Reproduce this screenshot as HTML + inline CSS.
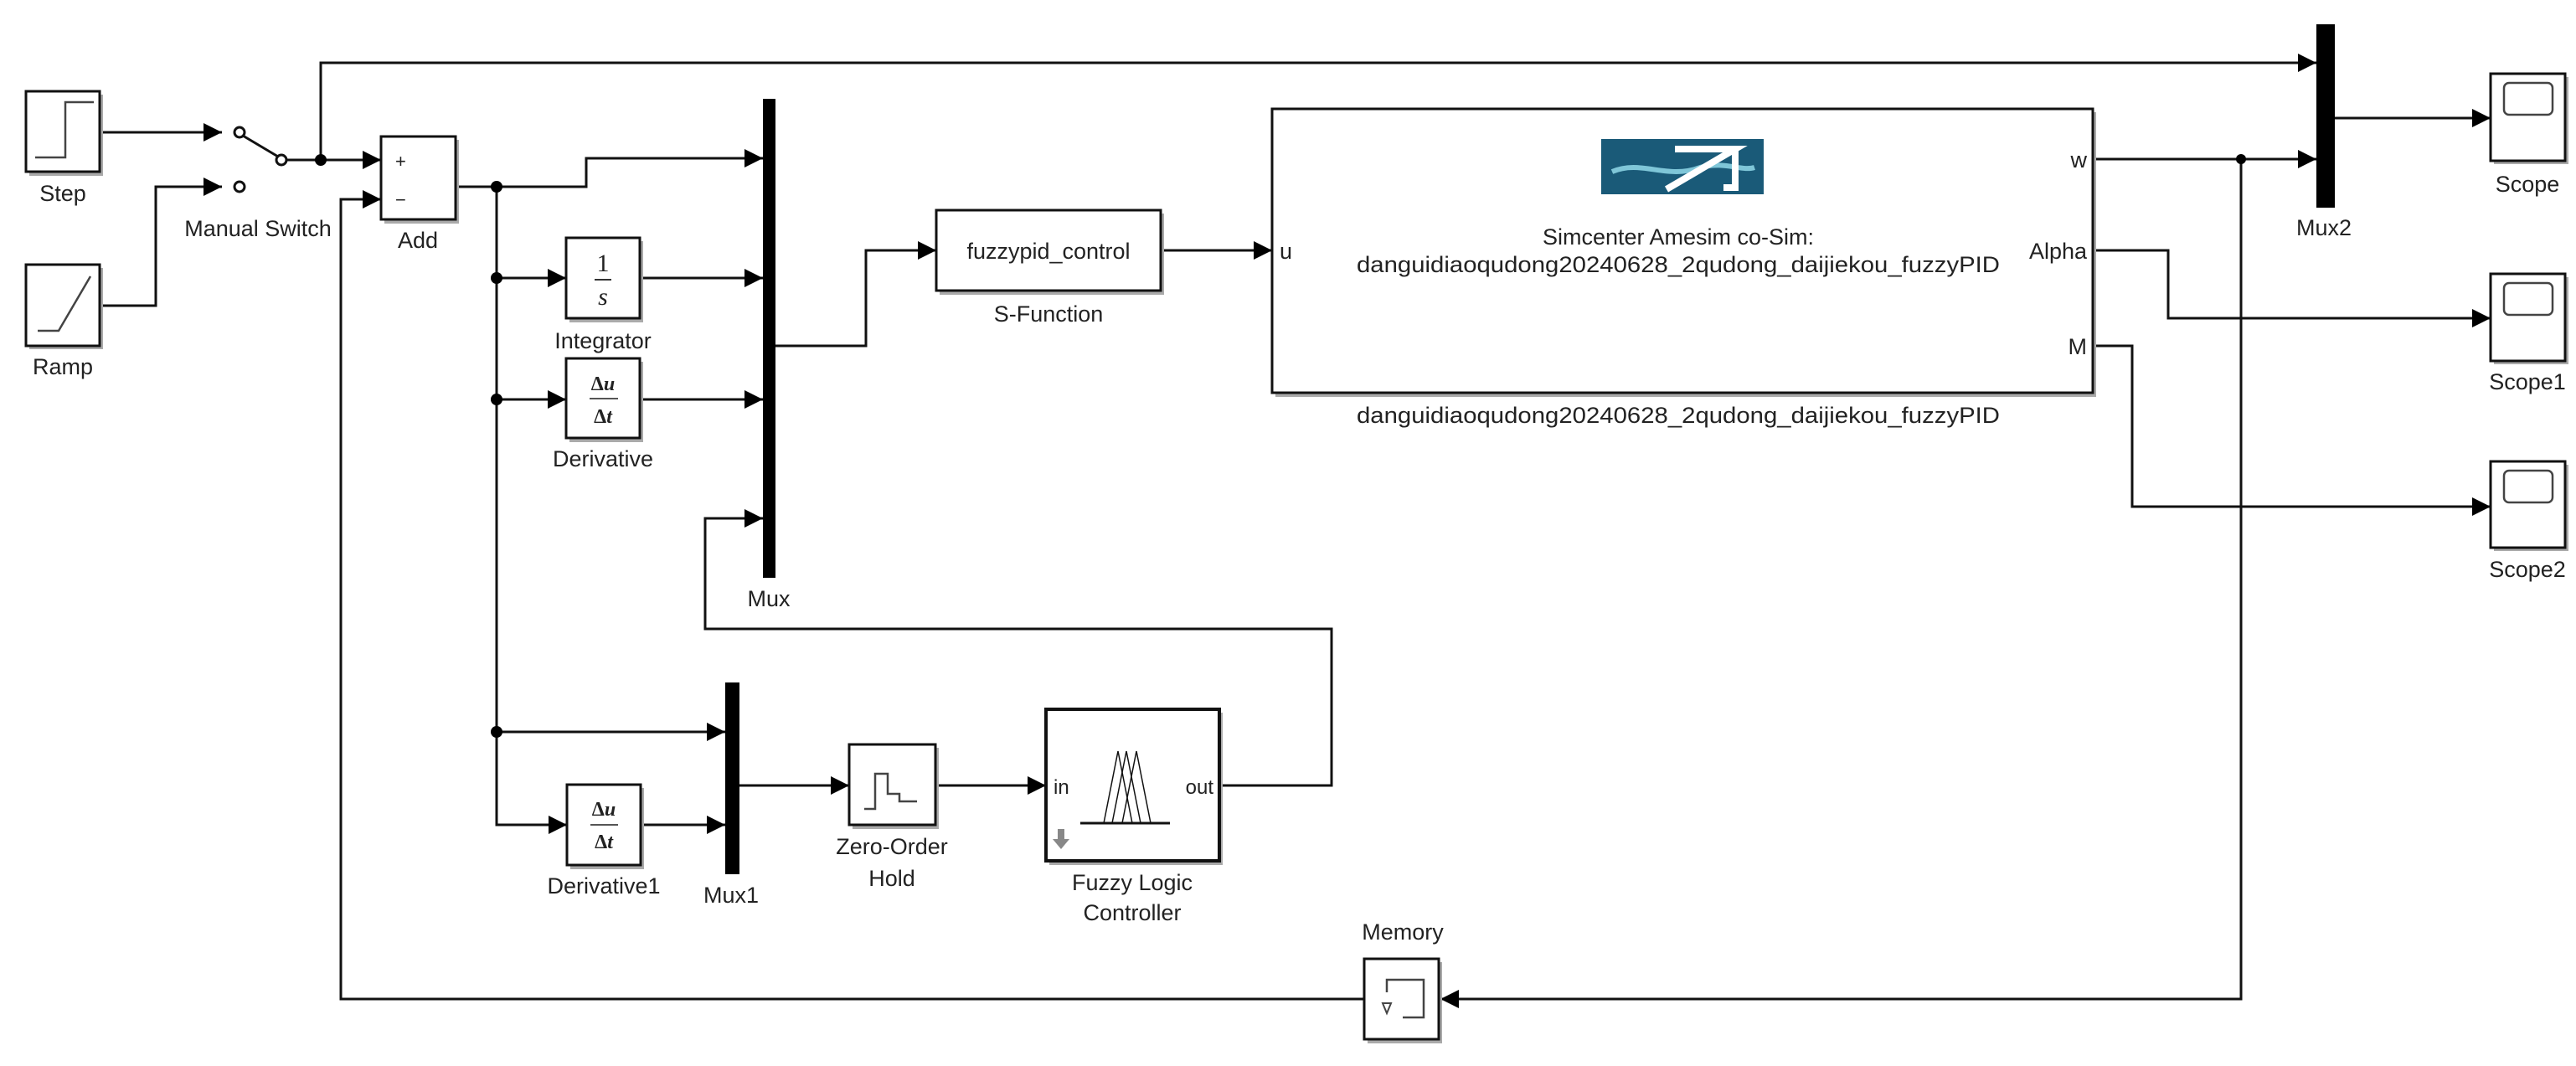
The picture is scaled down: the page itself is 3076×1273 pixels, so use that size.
<!DOCTYPE html>
<html><head><meta charset="utf-8"><style>
html,body{margin:0;padding:0;background:#fff;}
svg{display:block;}
text{font-family:"Liberation Sans",Arial,sans-serif;font-size:27px;fill:#222;}
</style></head><body>
<svg width="3076" height="1273" viewBox="0 0 3076 1273" xmlns="http://www.w3.org/2000/svg">
<defs>
<marker id="a" markerUnits="userSpaceOnUse" markerWidth="22" markerHeight="22" refX="20" refY="10" orient="auto" viewBox="0 0 20 20"><path d="M0,0 L20,10 L0,20 z" fill="#000"/></marker>
</defs>
<g fill="none" stroke="#111" stroke-width="3">
<polyline points="119,158 265,158" marker-end="url(#a)"/>
<polyline points="119,365 186,365 186,223 265,223" marker-end="url(#a)"/>
<line x1="290" y1="162" x2="332" y2="187"/>
<polyline points="341,191 455,191" marker-end="url(#a)"/>
<polyline points="383,191 383,75 2766,75" marker-end="url(#a)"/>
<polyline points="544,223 700,223 700,189 911,189" marker-end="url(#a)"/>
<polyline points="593,223 593,985 677,985" marker-end="url(#a)"/>
<polyline points="593,332 676,332" marker-end="url(#a)"/>
<polyline points="764,332 911,332" marker-end="url(#a)"/>
<polyline points="593,477 676,477" marker-end="url(#a)"/>
<polyline points="764,477 911,477" marker-end="url(#a)"/>
<polyline points="593,874 866,874" marker-end="url(#a)"/>
<polyline points="765,985 866,985" marker-end="url(#a)"/>
<polyline points="926,413 1034,413 1034,299 1118,299" marker-end="url(#a)"/>
<polyline points="1386,299 1519,299" marker-end="url(#a)"/>
<polyline points="883,938 1014,938" marker-end="url(#a)"/>
<polyline points="1117,938 1249,938" marker-end="url(#a)"/>
<polyline points="1456,938 1590,938 1590,751 842,751 842,619 911,619" marker-end="url(#a)"/>
<polyline points="2499,190 2766,190" marker-end="url(#a)"/>
<polyline points="2676,190 2676,1193 1720,1193" marker-end="url(#a)"/>
<polyline points="1629,1193 407,1193 407,238 455,238" marker-end="url(#a)"/>
<polyline points="2788,141 2974,141" marker-end="url(#a)"/>
<polyline points="2499,299 2589,299 2589,380 2974,380" marker-end="url(#a)"/>
<polyline points="2499,413 2546,413 2546,605 2974,605" marker-end="url(#a)"/>
</g>
<g fill="#000">
<circle cx="383" cy="191" r="7"/><circle cx="593" cy="223" r="7"/><circle cx="593" cy="332" r="7"/>
<circle cx="593" cy="477" r="7"/><circle cx="593" cy="874" r="7"/><circle cx="2676" cy="190" r="6"/>
</g>
<g fill="#fff" stroke="#111" stroke-width="3">
<circle cx="286" cy="158" r="6"/><circle cx="286" cy="223" r="6"/><circle cx="336" cy="191" r="6"/>
</g>
<g fill="#aaa">
<rect x="35" y="113" width="88" height="97"/><rect x="35" y="320" width="88" height="97"/>
<rect x="459" y="167" width="89" height="100"/><rect x="680" y="288" width="88" height="97"/>
<rect x="680" y="432" width="88" height="96"/><rect x="681" y="941" width="88" height="97"/>
<rect x="1018" y="893" width="103" height="97"/><rect x="1253" y="851" width="207" height="182"/>
<rect x="1122" y="255" width="268" height="97"/><rect x="1523" y="134" width="980" height="340"/>
<rect x="1633" y="1149" width="89" height="97"/>
<rect x="2978" y="92" width="89" height="104"/><rect x="2978" y="331" width="89" height="104"/><rect x="2978" y="555" width="89" height="103"/>
</g>
<g fill="#fff" stroke="#111" stroke-width="3">
<rect x="31" y="109" width="88" height="96"/><rect x="31" y="316" width="88" height="97"/>
<rect x="455" y="163" width="89" height="99"/><rect x="676" y="284" width="88" height="96"/>
<rect x="676" y="428" width="88" height="95"/><rect x="677" y="937" width="88" height="96"/>
<rect x="1014" y="889" width="103" height="96"/><rect x="1249" y="847" width="207" height="181" stroke-width="4"/>
<rect x="1118" y="251" width="268" height="96"/><rect x="1519" y="130" width="980" height="339"/>
<rect x="1629" y="1145" width="89" height="96"/>
<rect x="2974" y="88" width="89" height="104"/><rect x="2974" y="327" width="89" height="104"/><rect x="2974" y="551" width="89" height="103"/>
</g>
<rect x="911" y="118" width="15" height="572" fill="#000"/>
<rect x="866" y="815" width="17" height="229" fill="#000"/>
<rect x="2766" y="29" width="22" height="219" fill="#000"/>
<g fill="none" stroke="#444" stroke-width="2.5">
<polyline points="42,188 78,188 78,122 112,122"/>
<polyline points="45,395 70,395 108,330"/>
<polyline points="1032,966 1045,966 1045,924 1060,924 1060,948 1074,948 1074,957 1095,957"/>
<polyline points="1656,1185 1656,1170 1700,1170 1700,1215 1675,1215"/>
<rect x="2990" y="99" width="58" height="38" rx="6"/>
<rect x="2990" y="338" width="58" height="38" rx="6"/>
<rect x="2990" y="562" width="58" height="38" rx="6"/>
</g>
<path d="M1651,1198 L1661,1198 L1656,1210 z" fill="none" stroke="#444" stroke-width="2"/>
<g stroke="#111" stroke-width="1.5" fill="none">
<line x1="1290" y1="983" x2="1397" y2="983" stroke-width="3"/>
<polyline points="1318,983 1335,897 1352,983"/>
<polyline points="1328,983 1345,897 1362,983"/>
<polyline points="1340,983 1357,897 1374,983"/>
</g>
<path d="M1263,990 L1271,990 L1271,1002 L1277,1002 L1267,1014 L1257,1002 L1263,1002 z" fill="#888"/>
<line x1="710" y1="334" x2="730" y2="334" stroke="#333" stroke-width="2"/>
<line x1="704" y1="476" x2="738" y2="476" stroke="#555" stroke-width="2"/>
<line x1="705" y1="985" x2="738" y2="985" stroke="#555" stroke-width="2"/>
<rect x="1912" y="166" width="194" height="66" fill="#1a5a78"/>
<path d="M1925,205 C1960,190 1990,215 2030,200 C2060,192 2080,205 2095,200" stroke="#7fc6d8" stroke-width="6" fill="none"/>
<path d="M2000,178 L2072,178 L1990,226 M2072,178 L2072,224 L2058,224" stroke="#fff" stroke-width="8" fill="none"/>
<text x="720" y="324" text-anchor="middle" style="font-family:'Liberation Serif',serif;font-size:30px">1</text>
<text x="720" y="364" text-anchor="middle" style="font-family:'Liberation Serif',serif;font-size:30px;font-style:italic">s</text>
<text x="720" y="466" text-anchor="middle" style="font-family:'Liberation Serif',serif;font-size:24px;font-weight:bold">Δ<tspan font-style="italic">u</tspan></text>
<text x="720" y="505" text-anchor="middle" style="font-family:'Liberation Serif',serif;font-size:24px;font-weight:bold">Δ<tspan font-style="italic">t</tspan></text>
<text x="721" y="974" text-anchor="middle" style="font-family:'Liberation Serif',serif;font-size:24px;font-weight:bold">Δ<tspan font-style="italic">u</tspan></text>
<text x="721" y="1013" text-anchor="middle" style="font-family:'Liberation Serif',serif;font-size:24px;font-weight:bold">Δ<tspan font-style="italic">t</tspan></text>
<text x="472" y="200" style="font-size:22px">+</text>
<text x="472" y="246" style="font-size:22px">−</text>
<g text-anchor="middle">
<text x="75" y="240">Step</text>
<text x="75" y="447">Ramp</text>
<text x="308" y="282">Manual Switch</text>
<text x="499" y="296">Add</text>
<text x="720" y="416">Integrator</text>
<text x="720" y="557">Derivative</text>
<text x="918" y="724">Mux</text>
<text x="721" y="1067">Derivative1</text>
<text x="873" y="1078">Mux1</text>
<text x="1065" y="1020">Zero-Order</text>
<text x="1065" y="1058">Hold</text>
<text x="1352" y="1063">Fuzzy Logic</text>
<text x="1352" y="1099">Controller</text>
<text x="1675" y="1122">Memory</text>
<text x="1252" y="309">fuzzypid_control</text>
<text x="1252" y="384">S-Function</text>
<text x="2004" y="292">Simcenter Amesim co-Sim:</text>
<text x="2004" y="325" textLength="768" lengthAdjust="spacingAndGlyphs">danguidiaoqudong20240628_2qudong_daijiekou_fuzzyPID</text>
<text x="2004" y="505" textLength="768" lengthAdjust="spacingAndGlyphs">danguidiaoqudong20240628_2qudong_daijiekou_fuzzyPID</text>
<text x="2775" y="281">Mux2</text>
<text x="3018" y="229">Scope</text>
<text x="3018" y="465">Scope1</text>
<text x="3018" y="689">Scope2</text>
</g>
<text x="1528" y="309">u</text>
<text x="2492" y="200" text-anchor="end">w</text>
<text x="2492" y="309" text-anchor="end">Alpha</text>
<text x="2492" y="423" text-anchor="end">M</text>
<text x="1258" y="948" style="font-size:24px">in</text>
<text x="1449" y="948" text-anchor="end" style="font-size:24px">out</text>
</svg>
</body></html>
